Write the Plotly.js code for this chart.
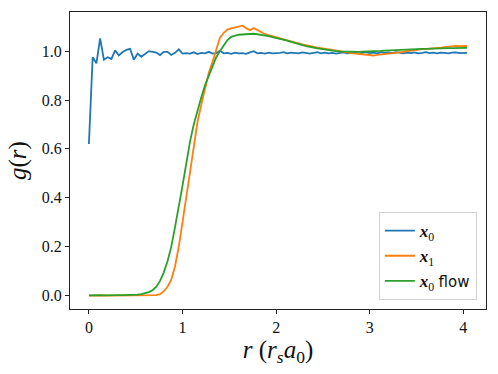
<!DOCTYPE html>
<html>
<head>
<meta charset="utf-8">
<script src="https://cdn.plot.ly/plotly-3.0.1.min.js"></script>
<style>
  html, body { margin: 0; padding: 0; background: #fff; }
  #plot { width: 498px; height: 374px; }
</style>
</head>
<body>
<div id="plot"></div>
<script>
// radial grid (units of r_s a_0)
var r = [
  0.00, 0.04, 0.08, 0.12, 0.16, 0.20, 0.24, 0.28, 0.32, 0.36,
  0.40, 0.44, 0.48, 0.52, 0.56, 0.60, 0.64, 0.68, 0.72, 0.76,
  0.80, 0.84, 0.88, 0.92, 0.96, 1.00, 1.04, 1.08, 1.12, 1.16,
  1.20, 1.24, 1.28, 1.32, 1.36, 1.40, 1.44, 1.48, 1.52, 1.56,
  1.60, 1.64, 1.68, 1.72, 1.76, 1.80, 1.84, 1.88, 1.92, 1.96,
  2.00, 2.04, 2.08, 2.12, 2.16, 2.20, 2.24, 2.28, 2.32, 2.36,
  2.40, 2.44, 2.48, 2.52, 2.56, 2.60, 2.64, 2.68, 2.72, 2.76,
  2.80, 2.84, 2.88, 2.92, 2.96, 3.00, 3.04, 3.08, 3.12, 3.16,
  3.20, 3.24, 3.28, 3.32, 3.36, 3.40, 3.44, 3.48, 3.52, 3.56,
  3.60, 3.64, 3.68, 3.72, 3.76, 3.80, 3.84, 3.88, 3.92, 3.96,
  4.00, 4.04
];

// g(r) for x0
var gX0 = [
  0.620, 0.975, 0.950, 1.052, 0.965, 0.975, 0.968, 1.003, 0.982, 0.996,
  1.005, 1.009, 0.965, 0.990, 0.977, 0.990, 1.000, 0.997, 0.994, 0.984,
  0.997, 0.997, 0.984, 0.993, 1.007, 0.990, 0.992, 0.990, 0.995, 0.988,
  0.993, 0.991, 0.997, 0.990, 0.992, 1.001, 0.991, 0.993, 0.989, 0.994,
  0.991, 0.992, 0.989, 0.995, 1.000, 0.991, 0.993, 0.990, 0.994, 0.991,
  0.991, 0.993, 0.996, 0.991, 0.994, 0.993, 0.991, 0.995, 0.992, 0.990,
  0.993, 0.996, 0.991, 0.994, 0.991, 0.993, 0.990, 0.993, 0.995, 0.991,
  0.993, 0.994, 0.990, 0.993, 0.996, 0.992, 0.994, 0.991, 0.996, 0.993,
  0.995, 0.992, 0.996, 0.994, 0.991, 0.994, 0.992, 0.995, 0.991, 0.993,
  0.996, 0.992, 0.994, 0.991, 0.994, 0.993, 0.991, 0.994, 0.995, 0.992,
  0.994, 0.993
];

// g(r) for x1
var gX1 = [
  0.000, 0.001, 0.000, 0.000, 0.001, 0.000, 0.000, 0.001, 0.000, 0.000,
  0.001, 0.000, 0.000, 0.001, 0.000, 0.001, 0.000, 0.001, 0.002, 0.006,
  0.018, 0.036, 0.065, 0.120, 0.200, 0.300, 0.400, 0.505, 0.620, 0.710,
  0.780, 0.850, 0.910, 0.955, 1.010, 1.055, 1.075, 1.088, 1.093, 1.097,
  1.100, 1.104, 1.094, 1.085, 1.094, 1.086, 1.075, 1.070, 1.065, 1.060,
  1.055, 1.052, 1.048, 1.044, 1.039, 1.036, 1.032, 1.028, 1.024, 1.022,
  1.018, 1.014, 1.012, 1.010, 1.008, 1.006, 1.002, 0.999, 0.997, 0.995,
  0.992, 0.990, 0.989, 0.988, 0.986, 0.984, 0.982, 0.985, 0.986, 0.988,
  0.989, 0.990, 0.993, 0.995, 0.998, 1.000, 1.002, 1.004, 1.006, 1.007,
  1.008, 1.010, 1.012, 1.013, 1.014, 1.016, 1.018, 1.017, 1.021, 1.020,
  1.022, 1.021
];

// g(r) for x0 flow
var gFlow = [
  0.001, 0.002, 0.001, 0.002, 0.001, 0.002, 0.002, 0.001, 0.002, 0.002,
  0.002, 0.003, 0.003, 0.004, 0.006, 0.009, 0.014, 0.022, 0.036, 0.060,
  0.095, 0.140, 0.200, 0.280, 0.360, 0.450, 0.540, 0.630, 0.700, 0.760,
  0.810, 0.860, 0.900, 0.940, 0.975, 1.000, 1.025, 1.045, 1.058, 1.064,
  1.067, 1.068, 1.070, 1.070, 1.071, 1.069, 1.067, 1.065, 1.061, 1.057,
  1.054, 1.051, 1.047, 1.043, 1.038, 1.033, 1.028, 1.024, 1.020, 1.017,
  1.013, 1.011, 1.009, 1.006, 1.004, 1.002, 1.000, 0.999, 0.998, 0.997,
  0.997, 0.996, 0.997, 0.998, 0.998, 0.999, 1.000, 1.000, 1.001, 1.002,
  1.003, 1.004, 1.005, 1.006, 1.006, 1.007, 1.007, 1.008, 1.008, 1.009,
  1.009, 1.010, 1.010, 1.010, 1.011, 1.011, 1.012, 1.012, 1.013, 1.013,
  1.013, 1.013
];

var seriesNames = [
  '<b><i>x</i></b><sub>0</sub>',
  '<b><i>x</i></b><sub>1</sub>',
  '<b><i>x</i></b><sub>0</sub> <span style="font-family:\'DejaVu Sans\';font-size:15px">flow</span>'
];
var seriesColours = ['#1f77b4', '#ff7f0e', '#2ca02c'];
var seriesValues = [gX0, gX1, gFlow];

var xTicks = [0, 1, 2, 3, 4];
var yTicks = [0.0, 0.2, 0.4, 0.6, 0.8, 1.0];

var serif = "'Liberation Serif', 'Times New Roman', serif";

var data = seriesValues.map(function (g, i) {
  return {
    type: 'scatter',
    mode: 'lines',
    name: seriesNames[i],
    x: r,
    y: g,
    line: {color: seriesColours[i], width: 1.8}
  };
});

var axisCommon = {
  showline: true,
  mirror: true,
  linecolor: '#222',
  linewidth: 1,
  showgrid: false,
  zeroline: false,
  ticks: 'outside',
  ticklen: 4,
  tickwidth: 1,
  tickcolor: '#222',
  tickfont: {family: serif, size: 16, color: '#111'}
};

var layout = {
  width: 498,
  height: 374,
  margin: {l: 70, r: 12, t: 12, b: 65},
  paper_bgcolor: '#fff',
  plot_bgcolor: '#fff',
  showlegend: true,
  xaxis: Object.assign({}, axisCommon, {
    range: [-0.202, 4.242],
    tickvals: xTicks,
    ticktext: xTicks.map(String),
    title: {
      text: '<i>r</i> (<i>r</i><sub><i>s</i></sub><i>a</i><sub>0</sub>)',
      font: {family: serif, size: 25, color: '#111'},
      standoff: 2
    }
  }),
  yaxis: Object.assign({}, axisCommon, {
    range: [-0.055, 1.16],
    tickvals: yTicks,
    ticktext: yTicks.map(function (v) { return v.toFixed(1); }),
    title: {
      text: '<i>g</i>(<i>r</i>)',
      font: {family: serif, size: 25, color: '#111'},
      standoff: 8
    }
  }),
  legend: {
    x: 0.978,
    y: 0.03,
    xanchor: 'right',
    yanchor: 'bottom',
    bgcolor: 'rgba(255,255,255,0.8)',
    bordercolor: '#d0d0d0',
    borderwidth: 1,
    font: {family: serif, size: 17, color: '#111'},
    tracegroupgap: 0,
    itemwidth: 30
  }
};

Plotly.newPlot('plot', data, layout, {staticPlot: true, displayModeBar: false});
</script>
</body>
</html>
